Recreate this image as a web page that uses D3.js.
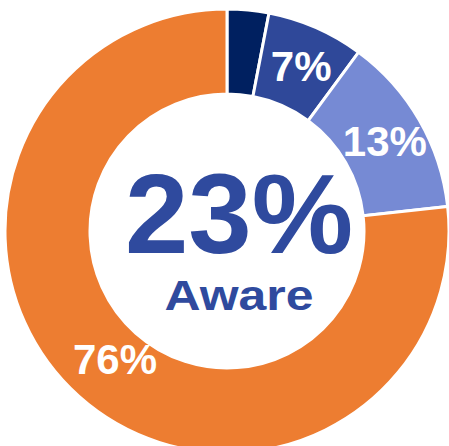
<html>
  <head>
    <meta charset="utf-8" />
    <script src="https://cdnjs.cloudflare.com/ajax/libs/d3/7.6.1/d3.min.js"></script>
    <style>
      body { margin: 0; background: #fff; }
      svg { display: block; }
      text { font-family: "Liberation Sans", Arial, sans-serif; font-weight: bold; }
    </style>
  </head>
  <body>
    <svg width="449" height="446"></svg>
  </body>
  <script>
    const segments = ["Very aware", "Somewhat aware", "Slightly aware", "Not aware"];
    const shares = [3, 7, 13, 76];
    const labels = ["", "7%", "13%", "76%"];
    const colors = ["#002060", "#2f4899", "#768ad4", "#ed7d31"];
    const centerValue = "23%";
    const centerLabel = "Aware";

    const svg = d3.select("svg");
    const cx = 227, cy = 231;
    const outer = 222, inner = 137;

    const pie = d3.pie().sort(null).value((d) => d);
    const arc = d3.arc().innerRadius(inner).outerRadius(outer);

    const g = svg.append("g").attr("transform", `translate(${cx},${cy})`);
    const arcs = pie(shares);

    g.selectAll("path")
      .data(arcs)
      .enter()
      .append("path")
      .attr("d", arc)
      .attr("fill", (d, i) => colors[i])
      .attr("stroke", "#fff")
      .attr("stroke-width", 3);

    // labels sit near the middle of the ring; the big slice's label a bit further in
    function labelPos(d) {
      const r = d.value > 50 ? 171 : 180;
      const a = (d.startAngle + d.endAngle) / 2;
      return [r * Math.sin(a), -r * Math.cos(a)];
    }

    g.selectAll("text.lbl")
      .data(arcs)
      .enter()
      .append("text")
      .attr("class", "lbl")
      .attr("x", (d) => labelPos(d)[0] + 2)
      .attr("y", (d) => labelPos(d)[1])
      .attr("dy", "0.36em")
      .attr("text-anchor", "middle")
      .attr("fill", "#fff")
      .style("font-size", "42px")
      .text((d, i) => labels[i]);

    g.append("text")
      .attr("x", 12)
      .attr("y", 22)
      .attr("text-anchor", "middle")
      .attr("fill", "#2f4a9e")
      .style("font-size", "114px")
      .text(centerValue);

    g.append("text")
      .attr("x", 12)
      .attr("y", 79)
      .attr("text-anchor", "middle")
      .attr("fill", "#2f4a9e")
      .attr("textLength", 149)
      .attr("lengthAdjust", "spacingAndGlyphs")
      .style("font-size", "43px")
      .text(centerLabel);
  </script>
</html>
